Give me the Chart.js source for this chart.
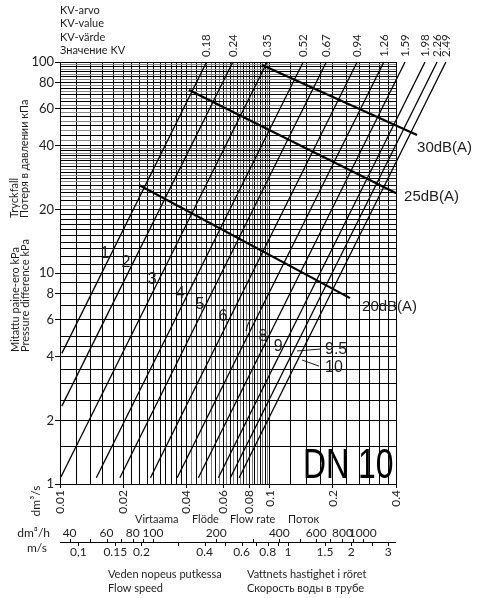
<!DOCTYPE html>
<html>
<head>
<meta charset="utf-8">
<script src="https://cdn.jsdelivr.net/npm/chart.js@4/dist/chart.umd.min.js"></script>
<style>
html,body{margin:0;padding:0;background:#fff;}
canvas{display:block;}
</style>
</head>
<body>
<canvas id="c" width="479" height="598"></canvas>
<script>
// ---- Kv lines (presetting 1..10) ----
const kvLabels       = ['0.18','0.24','0.35','0.52','0.67','0.94','1.26','1.59','1.98','2.26','2.49'];
const lineStartFlow  = [0.0102,0.0102,0.0101,0.0149,0.0193,0.0270,0.0362,0.0457,0.0569,0.0649,0.0715];
const lineStartDp    = [4.16,2.34,1.08,1.07,1.07,1.07,1.07,1.07,1.07,1.07,1.07];
const lineEndFlow    = [0.0500,0.0667,0.0972,0.1444,0.1861,0.2611,0.3500,0.4417,0.5500,0.6278,0.6917];
const lineEndDp      = [100,100,100,100,100,100,100,100,100,100,100];

// ---- presetting labels along lines ----
const presetNames     = ['1','2','3','4','5','6','7','8','9'];
const presetLabelFlow = [0.0164,0.0206,0.0275,0.0374,0.0465,0.0599,0.0780,0.0929,0.1096];
const presetLabelDp   = [12.4,11.2,9.3,8.0,7.05,6.2,5.55,4.97,4.46];
const calloutNames    = ['9.5','10'];
const calloutFromFlow = [0.1350,0.1426];
const calloutFromDp   = [4.27,3.87];
const calloutToFlow   = [0.1737,0.1718];
const calloutToDp     = [4.36,3.62];
const calloutTextFlow = [0.1835,0.1835];
const calloutTextDp   = [4.32,3.55];

// ---- noise lines ----
const noiseNames     = ['30dB(A)','25dB(A)','20dB(A)'];
const noiseStartFlow = [0.0919,0.0412,0.0238];
const noiseStartDp   = [96.8,73.7,26.1];
const noiseEndFlow   = [0.504,0.401,0.2415];
const noiseEndDp     = [45.1,23.9,7.6];
const noiseLabelFlow = [0.504,0.437,0.2755];
const noiseLabelDp   = [39.1,22.9,6.9];

// ---- axes ----
const xTickLabels = ['0.01','0.02','0.04','0.06','0.08','0.1','0.2','0.4'];
const yTickLabels = ['1','2','4','6','8','10','20','40','60','80','100'];
const xGridBlack = [0.010,0.012,0.014,0.016,0.018,0.020,0.022,0.024,0.026,0.028,0.030,0.032,0.034,0.036,0.038,0.040,0.045,0.050,0.055,0.060,0.065,0.070,0.075,0.080,0.085,0.090,0.095,0.100,0.125,0.150,0.175,0.200,0.2333,0.2667,0.300,0.3333,0.3667,0.400];
const xGridGrey  = [0.0425,0.0475,0.0525,0.0575,0.0625,0.0675,0.0725,0.0775,0.0825,0.0875,0.0925,0.0975];
const yGridBlack = [1,1.5,2,2.5,3,3.5,4,4.5,5,6,7,8,9,10,11,12,13,14,15,16,17,18,19,20,22,24,26,28,30,32,34,36,38,40,45,50,55,60,65,70,75,80,85,90,95,100];
const yGridGrey  = [21,23,25,27,29,31,33,35,37,39,42.5,47.5,52.5,57.5,62.5,67.5,72.5,77.5,82.5,87.5,92.5,97.5];

// secondary scales
const hourLabels = ['40','60','80','100','200','400','600','800','1000'];
const hourMinor  = [50,70,90,300,500,700,900];
const speedLabels = ['0,1','0.15','0.2','0.4','0.6','0.8','1','1.5','2','3'];
const speedValues = [0.1,0.15,0.2,0.4,0.6,0.8,1,1.5,2,3];
const speedMinor  = [0.3,0.5,0.7,0.9,2.5];
const FLOW_PER_MS = 0.1223; // dm3/s at 1 m/s in DN10

const TXT = '#1e1e1e';
const SMALL = '11px Lato, "Open Sans", sans-serif';

function near(list, v){ return list.some(s => Math.abs(parseFloat(s) - v) / v < 1e-6); }
function inNum(list, v){ return list.some(s => Math.abs(s - v) / v < 1e-6); }

const datasets = [];
kvLabels.forEach((k,i) => {
  datasets.push({ data:[{x:lineStartFlow[i],y:lineStartDp[i]},{x:lineEndFlow[i],y:lineEndDp[i]}],
    borderColor:'#000', borderWidth:1.3, clip:false, pointRadius:0 });
});
noiseNames.forEach((n,i) => {
  datasets.push({ data:[{x:noiseStartFlow[i],y:noiseStartDp[i]},{x:noiseEndFlow[i],y:noiseEndDp[i]}],
    borderColor:'#000', borderWidth:2.2, clip:false, pointRadius:0 });
});
calloutNames.forEach((n,i) => {
  datasets.push({ data:[{x:calloutFromFlow[i],y:calloutFromDp[i]},{x:calloutToFlow[i],y:calloutToDp[i]}],
    borderColor:'#000', borderWidth:0.9, clip:false, pointRadius:0 });
});

function txt(ctx, s, x, y, font, align, base, rot){
  ctx.save();
  ctx.translate(x, y);
  if (rot) ctx.rotate(rot);
  ctx.font = font; ctx.fillStyle = TXT;
  ctx.textAlign = align || 'left'; ctx.textBaseline = base || 'middle';
  ctx.fillText(s, 0, 0);
  ctx.restore();
}

const annotate = {
  id:'annotate',
  afterDraw(chart){
    const ctx = chart.ctx, xs = chart.scales.x, ys = chart.scales.y;
    const left = chart.chartArea.left, right = chart.chartArea.right;
    // Kv labels on top
    kvLabels.forEach((k,i) => {
      txt(ctx, k, xs.getPixelForValue(lineEndFlow[i]), ys.getPixelForValue(lineEndDp[i]) - 5, '11.5px Lato, "Open Sans", sans-serif', 'left', 'middle', -Math.PI/2);
    });
    // presetting labels
    presetNames.forEach((n,i) => {
      txt(ctx, n, xs.getPixelForValue(presetLabelFlow[i]), ys.getPixelForValue(presetLabelDp[i]), '16px "Liberation Sans", Arial, sans-serif', 'center', 'middle');
    });
    calloutNames.forEach((n,i) => {
      txt(ctx, n, xs.getPixelForValue(calloutTextFlow[i]), ys.getPixelForValue(calloutTextDp[i]), '16px "Liberation Sans", Arial, sans-serif', 'left', 'middle');
    });
    // noise labels
    noiseNames.forEach((n,i) => {
      txt(ctx, n, xs.getPixelForValue(noiseLabelFlow[i]), ys.getPixelForValue(noiseLabelDp[i]), '15px "Liberation Sans", Arial, sans-serif', 'left', 'middle');
    });
    // DN 10
    ctx.save();
    ctx.translate(303, 478);
    ctx.scale(0.76, 1);
    ctx.font = '42px "Liberation Sans", Arial, sans-serif';
    ctx.fillStyle = '#000'; ctx.textAlign = 'left'; ctx.textBaseline = 'alphabetic';
    ctx.fillText('DN 10', 0, 0);
    ctx.restore();

    // headings
    ['KV-arvo','KV-value','KV-värde','Значение KV'].forEach((s,i) => txt(ctx, s, 60, 10 + i*13.6, SMALL, 'left', 'middle'));
    // left titles
    txt(ctx, 'Tryckfall', 14, 218, SMALL, 'left', 'middle', -Math.PI/2);
    txt(ctx, 'Потеря в давлении кПа', 24, 218, SMALL, 'left', 'middle', -Math.PI/2);
    txt(ctx, 'Mitattu paine-ero kPa', 15, 352, SMALL, 'left', 'middle', -Math.PI/2);
    txt(ctx, 'Pressure difference kPa', 25, 352, SMALL, 'left', 'middle', -Math.PI/2);
    txt(ctx, 'dm³/s', 36, 501, '12px Lato, "Open Sans", sans-serif', 'center', 'middle', -Math.PI/2);

    // flow caption
    txt(ctx, 'Virtaama', 135, 519, SMALL); txt(ctx, 'Flöde', 192, 519, SMALL);
    txt(ctx, 'Flow rate', 230, 519, SMALL); txt(ctx, 'Поток', 288, 519, SMALL);

    // secondary scales
    const yl = 542;
    ctx.save(); ctx.strokeStyle = '#000'; ctx.lineWidth = 1;
    ctx.beginPath(); ctx.moveTo(left, yl + 0.5); ctx.lineTo(right, yl + 0.5); ctx.stroke();
    const hourVals = hourLabels.map(Number).concat(hourMinor);
    hourVals.forEach(v => { const px = Math.round(xs.getPixelForValue(v/3600)) + 0.5;
      ctx.beginPath(); ctx.moveTo(px, yl - 3); ctx.lineTo(px, yl + 0.5); ctx.stroke(); });
    speedValues.concat(speedMinor).forEach(v => { const px = Math.round(xs.getPixelForValue(v*FLOW_PER_MS)) + 0.5;
      ctx.beginPath(); ctx.moveTo(px, yl); ctx.lineTo(px, yl + 4); ctx.stroke(); });
    ctx.restore();
    hourLabels.forEach(s => txt(ctx, s, xs.getPixelForValue(Number(s)/3600), 533, '12px Lato, "Open Sans", sans-serif', 'center', 'middle'));
    speedLabels.forEach((s,i) => txt(ctx, s, xs.getPixelForValue(speedValues[i]*FLOW_PER_MS), 552, '12px Lato, "Open Sans", sans-serif', 'center', 'middle'));
    txt(ctx, 'dm³/h', 50, 533, '12px Lato, "Open Sans", sans-serif', 'right', 'middle');
    txt(ctx, 'm/s', 47, 548, '12px Lato, "Open Sans", sans-serif', 'right', 'middle');

    txt(ctx, 'Veden nopeus putkessa', 108, 574, SMALL);
    txt(ctx, 'Flow speed', 108, 588, SMALL);
    txt(ctx, 'Vattnets hastighet i röret', 247, 574, SMALL);
    txt(ctx, 'Скорость воды в трубе', 247, 588, SMALL);
  }
};

new Chart(document.getElementById('c'), {
  type:'line',
  data:{ datasets },
  plugins:[annotate],
  options:{
    responsive:false, animation:false, devicePixelRatio:1,
    layout:{ padding:{ top:62, right:83, left:0, bottom:0 } },
    plugins:{ legend:{display:false}, tooltip:{enabled:false} },
    elements:{ point:{radius:0}, line:{tension:0} },
    scales:{
      x:{
        type:'logarithmic', min:0.01, max:0.4,
        afterBuildTicks: s => { s.ticks = xGridBlack.concat(xGridGrey).map(v => ({value:v})); },
        afterFit: s => { s.height = 114; },
        ticks:{ autoSkip:false, minRotation:90, maxRotation:90, padding:2, color:'#222',
          font:{family:'Lato', size:12},
          callback: v => { const i = xTickLabels.findIndex(s => Math.abs(parseFloat(s)-v)/v < 1e-6); return i >= 0 ? xTickLabels[i] : ''; } },
        grid:{ color: c => (c.tick && inNum(xGridGrey, c.tick.value)) ? '#7a7a7a' : '#000',
          lineWidth:1, tickLength:4,
          tickColor: c => (c.tick && near(xTickLabels, c.tick.value)) ? '#000' : 'rgba(0,0,0,0)' },
        border:{ color:'#000', width:1 }
      },
      y:{
        type:'logarithmic', min:1, max:100,
        afterBuildTicks: s => { s.ticks = yGridBlack.concat(yGridGrey).map(v => ({value:v})); },
        afterFit: s => { s.width = 60; },
        ticks:{ autoSkip:false, padding:1, color:'#222', font:{family:'Lato', size:13},
          callback: v => { const i = yTickLabels.findIndex(s => Math.abs(parseFloat(s)-v)/v < 1e-6); return i >= 0 ? yTickLabels[i] : ''; } },
        grid:{ color: c => (c.tick && inNum(yGridGrey, c.tick.value)) ? '#8a8a8a' : '#000',
          lineWidth:1, tickLength:5,
          tickColor: c => (c.tick && near(yTickLabels, c.tick.value)) ? '#000' : 'rgba(0,0,0,0)' },
        border:{ color:'#000', width:1 }
      }
    }
  }
});
</script>
</body>
</html>
